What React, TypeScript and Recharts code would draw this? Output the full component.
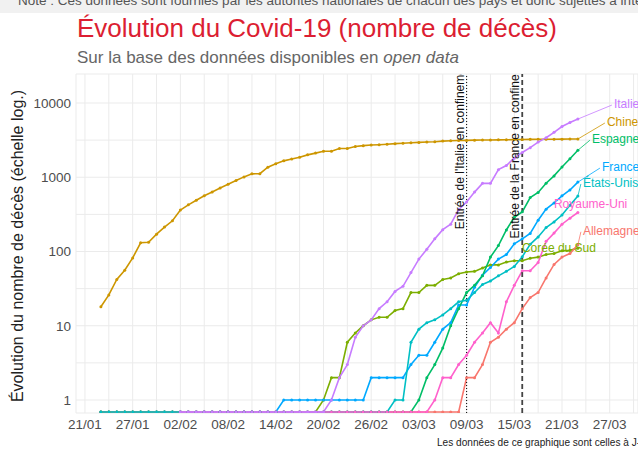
import React from 'react';
import {
  LineChart,
  Line,
  XAxis,
  YAxis,
  CartesianGrid,
  ReferenceLine,
  ReferenceDot
} from 'recharts';

const FONT = '"Liberation Sans", Arial, Helvetica, sans-serif';

// Dates (one point per day)
const dates = [
  '23/01', '24/01', '25/01', '26/01', '27/01', '28/01', '29/01', '30/01', '31/01',
  '01/02', '02/02', '03/02', '04/02', '05/02', '06/02', '07/02', '08/02', '09/02', '10/02',
  '11/02', '12/02', '13/02', '14/02', '15/02', '16/02', '17/02', '18/02', '19/02', '20/02',
  '21/02', '22/02', '23/02', '24/02', '25/02', '26/02', '27/02', '28/02', '29/02',
  '01/03', '02/03', '03/03', '04/03', '05/03', '06/03', '07/03', '08/03', '09/03', '10/03',
  '11/03', '12/03', '13/03', '14/03', '15/03', '16/03', '17/03', '18/03', '19/03', '20/03',
  '21/03', '22/03', '23/03'
];

const tickLabels = ['21/01', '27/01', '02/02', '08/02', '14/02', '20/02', '26/02', '03/03', '09/03', '15/03', '21/03', '27/03'];
const yTicks = [1, 10, 100, 1000, 10000];

// Décès cumulés (null = pas encore de série, 0 = aucun décès)
const chine = [
  18, 26, 42, 56, 82, 131, 133, 171, 213,
  259, 361, 425, 490, 562, 632, 717, 804, 904, 1011,
  1111, 1116, 1368, 1520, 1662, 1765, 1863, 2002, 2114, 2236,
  2236, 2441, 2443, 2593, 2663, 2715, 2744, 2788, 2835,
  2870, 2912, 2945, 2981, 3013, 3070, 3097, 3119, 3136, 3158,
  3169, 3176, 3189, 3199, 3213, 3226, 3237, 3245, 3249, 3253,
  3259, 3274, 3274
];
const coree = [
  0, 0, 0, 0, 0, 0, 0, 0, 0, 0,
  0, 0, 0, 0, 0, 0, 0, 0, 0, 0,
  0, 0, 0, 0, 0, 0, 0, 0,
  1, 2, 2, 6, 8, 10, 12, 13, 13, 16,
  17, 28, 28, 35, 35, 42, 44, 50, 53, 54,
  60, 66, 66, 72, 75, 75, 81, 84, 91, 94,
  102, 104, 111
];
const france = [
  0, 0, 0, 0, 0, 0, 0, 0, 0, 0,
  0, 0, 0, 0, 0, 0, 0, 0, 0, 0,
  0, 0, 0,
  1, 1, 1, 1, 1, 1, 1, 1, 1, 1, 1,
  2, 2, 2, 2,
  2, 3, 4, 4, 6, 9, 11, 19, 19, 33,
  48, 61, 79, 91, 127, 148, 175, 264, 372, 450,
  562, 674, 860
];
const espagne = [
  0, 0, 0, 0, 0, 0, 0, 0, 0, 0,
  0, 0, 0, 0, 0, 0, 0, 0, 0, 0,
  0, 0, 0, 0, 0, 0, 0, 0, 0, 0,
  0, 0, 0, 0, 0, 0, 0, 0, 0, 0,
  1, 2, 3, 5, 10, 17, 28, 35, 47, 84,
  120, 195, 289, 342, 533, 623, 830, 1043, 1375, 1772,
  2311
];
const allemagne = [
  0, 0, 0, 0, 0, 0, 0, 0, 0, 0,
  0, 0, 0, 0, 0, 0, 0, 0, 0, 0,
  0, 0, 0, 0, 0, 0, 0, 0, 0, 0,
  0, 0, 0, 0, 0, 0, 0, 0, 0, 0,
  0, 0, 0, 0, 0, 0,
  2, 2, 3, 6, 7, 9, 11, 17, 24, 28,
  44, 67, 84, 94, 123
];
const etatsUnis = [
  0, 0, 0, 0, 0, 0, 0, 0, 0, 0,
  0, 0, 0, 0, 0, 0, 0, 0, 0, 0,
  0, 0, 0, 0, 0, 0, 0, 0, 0, 0,
  0, 0, 0, 0, 0, 0, 0,
  1, 1, 6, 9, 11, 12, 14, 17, 21, 22,
  28, 36, 40, 47, 54, 63, 85, 125, 157, 210,
  250, 310, 420, 560
];
const royaumeUni = [
  null, null, null, null, null, null, null, null, null, null,
  0, 0, 0, 0, 0, 0, 0, 0, 0, 0,
  0, 0, 0, 0, 0, 0, 0, 0, 0, 0,
  0, 0, 0, 0, 0, 0, 0, 0, 0, 0,
  0, 0,
  1, 2, 2, 3, 4, 6, 8, 11, 8, 21,
  35, 55, 55, 71, 137, 177, 233, 281, 335
];
const italie = [
  null, null, null, null, null, null, null, null, null, null,
  0, 0, 0, 0, 0, 0, 0, 0, 0, 0,
  0, 0, 0, 0, 0, 0, 0, 0, 0,
  1, 2, 3, 7, 10, 12, 17, 21, 29,
  34, 52, 79, 107, 148, 197, 233, 366, 463, 631,
  827, 827, 1266, 1441, 1809, 2158, 2503, 2978, 3405, 4032,
  4825, 5476, 6077
];

const events = [
  { date: '09/03', text: "Entrée de l'Italie en confinement", at: 200, dash: '1 2', width: 1.1, color: '#111' },
  { date: '16/03', text: 'Entrée de la France en confinement', at: 150, dash: '5 3', width: 1.8, color: '#444' }
];

// draw order: last one on top
const countries = [
  { key: 'chine', name: 'Chine', color: '#CD9600', values: chine, dx: 29, dy: -17, link: true },
  { key: 'coree', name: 'Corée du Sud', color: '#7CAE00', values: coree, dx: -56, dy: 0, link: false },
  { key: 'france', name: 'France', color: '#00A9FF', values: france, dx: 24, dy: -15, link: true },
  { key: 'espagne', name: 'Espagne', color: '#00BE67', values: espagne, dx: 14, dy: -11, link: true },
  { key: 'allemagne', name: 'Allemagne', color: '#F8766D', values: allemagne, dx: 5, dy: -14, link: true },
  { key: 'etatsUnis', name: 'États-Unis', color: '#00BFC4', values: etatsUnis, dx: 5, dy: -13, link: true },
  { key: 'royaumeUni', name: 'Royaume-Uni', color: '#FF61CC', values: royaumeUni, dx: -24, dy: -9, link: false },
  { key: 'italie', name: 'Italie', color: '#C77CFF', values: italie, dx: 36, dy: -15, link: true }
];

const W = 638;
const H = 449;
const PLOT_TOP = 74;
const Y_MIN = 0.668;
const Y_MAX = 24580;
const FLOOR = 0.69; // 0 on a log axis -> bottom of the panel
const X_MIN = -1.13;
const X_MAX = 69.56;

const toDay = (s: string) => {
  const [d, m] = s.split('/').map(Number);
  return m === 1 ? d - 21 : m === 2 ? d + 10 : d + 39;
};

const data = dates.map((dt, i) => {
  const row: Record<string, number | null> = { day: toDay(dt) };
  countries.forEach((c) => {
    const v = c.values[i];
    row[c.key] = v === null ? null : v === 0 ? FLOOR : v;
  });
  return row;
});

const majorDays = tickLabels.map(toDay);
const labelByDay = new Map(majorDays.map((d, i) => [d, tickLabels[i]]));
const xAllTicks = [...majorDays, ...majorDays.map((d) => d + 3)].filter((d) => d <= X_MAX).sort((a, b) => a - b);
const yAllTicks = [...yTicks, ...yTicks.map((v) => v * Math.sqrt(10))]
  .filter((v) => v <= Y_MAX)
  .sort((a, b) => a - b);

const lastIndex = dates.length - 1;
const lastDay = toDay(dates[lastIndex]);

const tickStyle = { fontSize: 13.5, fill: '#4d4d4d', fontFamily: FONT };

const EventText = ({ cx, cy, text, id }: any) => (
  <g>
    <defs>
      <clipPath id={id}>
        <rect x={0} y={PLOT_TOP} width={W} height={H - PLOT_TOP} />
      </clipPath>
    </defs>
    <g clipPath={`url(#${id})`}>
      <text
        x={cx - 3}
        y={cy}
        transform={`rotate(-90 ${cx - 3} ${cy})`}
        fontSize={12}
        fill="#111"
        fontFamily={FONT}
      >
        {text}
      </text>
    </g>
  </g>
);

const EndLabel = ({ cx, cy, c }: any) => (
  <g>
    {c.link && (
      <line x1={cx} y1={cy} x2={cx + c.dx - 2} y2={cy + c.dy + 1} stroke={c.color} strokeWidth={0.8} />
    )}
    <text
      x={cx + c.dx}
      y={cy + c.dy}
      dominantBaseline="central"
      fontSize={12}
      fill={c.color}
      fontFamily={FONT}
    >
      {c.name}
    </text>
  </g>
);

export default function App() {
  return (
    <div style={{ position: 'absolute', left: 0, top: 0, width: W, height: H, background: '#fff' }}>
      <svg width={W} height={H} style={{ position: 'absolute', left: 0, top: 0 }}>
        <rect x={0} y={0} width={W} height={13} fill="#f1f1f1" />
        <text x={18} y={5} fontSize={13.5} fill="#555" fontFamily={FONT}>
          Note : Ces données sont fournies par les autorités nationales de chacun des pays et donc sujettes à interprétation.
        </text>
        <text x={77} y={37} fontSize={26} fill="#dc1e32" fontFamily={FONT}>
          Évolution du Covid-19 (nombre de décès)
        </text>
        <text x={77} y={63} fontSize={17} fill="#666" fontFamily={FONT}>
          Sur la base des données disponibles en <tspan fontStyle="italic">open data</tspan>
        </text>
        <text
          transform="translate(23 246) rotate(-90)"
          textAnchor="middle"
          fontSize={16}
          fill="#222"
          fontFamily={FONT}
        >
          Évolution du nombre de décès (échelle log.)
        </text>
        <text x={437} y={446} fontSize={10.1} fill="#222" fontFamily={FONT}>
          Les données de ce graphique sont celles à J-1
        </text>
      </svg>
      <div style={{ position: 'absolute', left: 0, top: 0 }}>
        <LineChart width={W} height={H} data={data} margin={{ top: PLOT_TOP, right: 0, bottom: 0, left: 0 }}>
          <CartesianGrid stroke="#ebebeb" strokeWidth={1} />
          <XAxis
            type="number"
            dataKey="day"
            domain={[X_MIN, X_MAX]}
            allowDataOverflow
            ticks={xAllTicks}
            interval={0}
            tickFormatter={(v: number) => labelByDay.get(v) ?? ''}
            height={36}
            axisLine={false}
            tickLine={false}
            tickSize={0}
            tickMargin={6}
            tick={tickStyle}
          />
          <YAxis
            type="number"
            scale="log"
            domain={[Y_MIN, Y_MAX]}
            allowDataOverflow
            ticks={yAllTicks}
            interval={0}
            tickFormatter={(v: number) => (yTicks.includes(v) ? String(v) : '')}
            width={76}
            axisLine={false}
            tickLine={false}
            tickSize={0}
            tickMargin={5}
            tick={tickStyle}
          />
          {countries.map((c) => (
            <Line
              key={c.key}
              type="linear"
              dataKey={c.key}
              stroke={c.color}
              strokeWidth={1.6}
              dot={{ r: 1.5, fill: c.color, stroke: c.color, strokeWidth: 0 }}
              activeDot={false}
              connectNulls={false}
              isAnimationActive={false}
            />
          ))}
          {events.map((e) => (
            <ReferenceLine
              key={e.date}
              x={toDay(e.date)}
              stroke={e.color}
              strokeDasharray={e.dash}
              strokeWidth={e.width}
            />
          ))}
          {events.map((e, i) => (
            <ReferenceDot
              key={`t-${e.date}`}
              x={toDay(e.date)}
              y={e.at}
              r={0}
              shape={(p: any) => <EventText cx={p.cx} cy={p.cy} text={e.text} id={`clip-ev-${i}`} />}
            />
          ))}
          {countries.map((c) => (
            <ReferenceDot
              key={`l-${c.key}`}
              x={lastDay}
              y={c.values[lastIndex] as number}
              r={0}
              shape={(p: any) => <EndLabel cx={p.cx} cy={p.cy} c={c} />}
            />
          ))}
        </LineChart>
      </div>
    </div>
  );
}
